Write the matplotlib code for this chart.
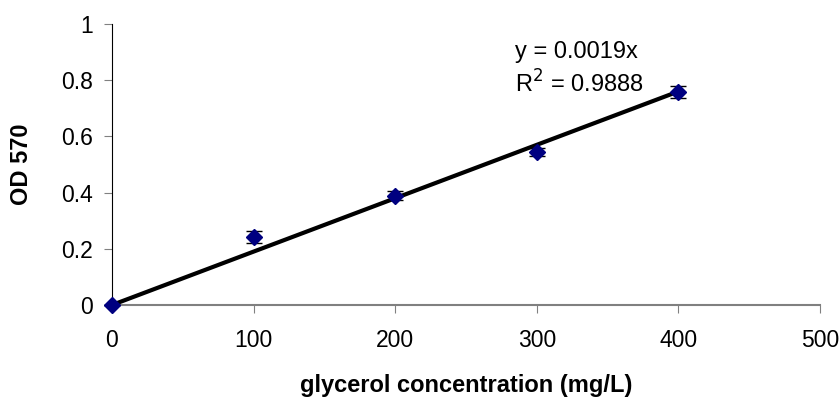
import numpy as np
import matplotlib.pyplot as plt

plt.rcParams['font.family'] = ['Liberation Sans', 'DejaVu Sans']

conc = [0, 100, 200, 300, 400]
od = [0.0, 0.243, 0.388, 0.545, 0.757]
err = [0.0, 0.022, 0.016, 0.014, 0.022]
slope = 0.0019

fig = plt.figure(figsize=(8.39, 3.98), dpi=100)
ax = fig.add_axes([112/839, 1-305/398, 708/839, 281/398])

# trend line
xl = np.array([0, 400])
ax.plot(xl, slope*xl, color='black', lw=3, zorder=2)
ax.errorbar(conc, od, yerr=err, fmt='D', color='#000080', ms=8.5,
            ecolor='black', elinewidth=1, capsize=6, capthick=1, zorder=3,
            clip_on=False)

ax.text(328, 0.88, 'y = 0.0019x', fontsize=17, ha='center')
ax.text(330, 0.755, 'R$^2$ = 0.9888', fontsize=17, ha='center')

ax.set_xlim(0, 500)
ax.set_ylim(0, 1)
ax.set_xticks([0, 100, 200, 300, 400, 500])
ax.set_yticks([0, 0.2, 0.4, 0.6, 0.8, 1])
ax.set_yticklabels(['0', '0.2', '0.4', '0.6', '0.8', '1'])
ax.tick_params(labelsize=16.5, length=6, color='#808080', direction='out')
ax.tick_params(axis='x', pad=11)
ax.tick_params(axis='y', pad=8)
ax.spines['top'].set_visible(False)
ax.spines['right'].set_visible(False)
ax.spines['left'].set_color('black')
ax.spines['bottom'].set_color('#808080')
ax.spines['bottom'].set_linewidth(1.5)
ax.set_xlabel('glycerol concentration (mg/L)', fontsize=17, fontweight='bold', labelpad=16)
ax.set_ylabel('OD 570', fontsize=17, fontweight='bold', labelpad=20)

fig.savefig('out.png', dpi=100)
